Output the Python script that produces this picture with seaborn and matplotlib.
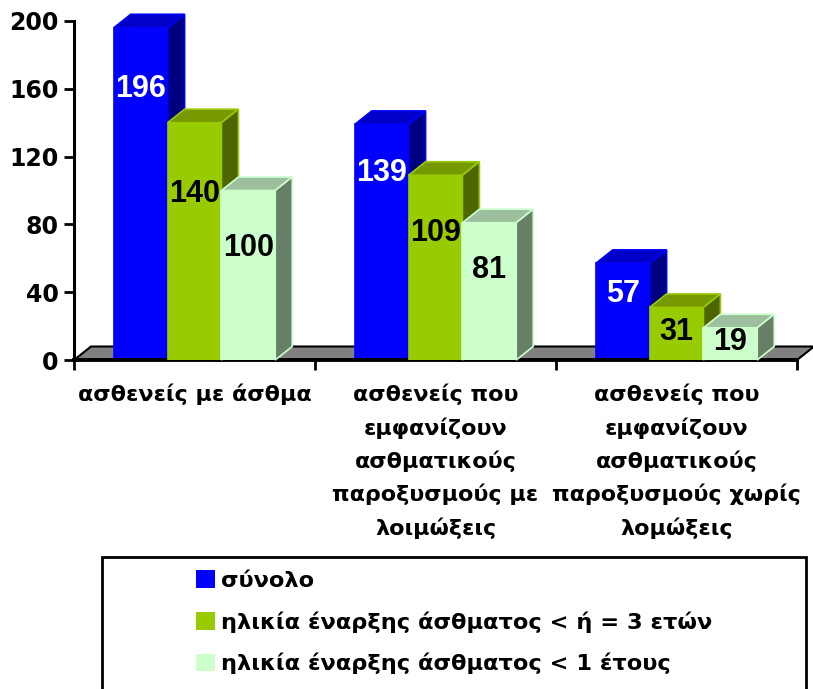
import numpy as np
import pandas as pd
import matplotlib
matplotlib.use("Agg")
import matplotlib.pyplot as plt
from matplotlib.patches import Polygon, Patch, Rectangle
import seaborn as sns

# --- data -------------------------------------------------------------
categories = [
    "ασθενείς με άσθμα",
    "ασθενείς που\nεμφανίζουν\nασθματικούς\nπαροξυσμούς με\nλοιμώξεις",
    "ασθενείς που\nεμφανίζουν\nασθματικούς\nπαροξυσμούς χωρίς\nλομώξεις",
]
series = [
    "σύνολο",
    "ηλικία έναρξης άσθματος < ή = 3 ετών",
    "ηλικία έναρξης άσθματος < 1 έτους",
]
total = [196, 139, 57]
onset_3y = [140, 109, 31]
onset_1y = [100, 81, 19]
y_ticks = [0, 40, 80, 120, 160, 200]

# --- styling ----------------------------------------------------------
front = ["#0000FF", "#99CC00", "#CCFFCC"]
top_c = ["#0000C8", "#779900", "#9DBF9D"]
side_c = ["#000080", "#4D6600", "#667F66"]
text_c = ["white", "black", "black"]
# label height inside each bar (slope, offset) per series
label_fit = [(0.87, -10.6), (0.747, -6.4), (0.683, -2.3)]

sns.set_theme(style="white")
plt.rcParams["font.family"] = ["DejaVu Sans"]
plt.rcParams["font.weight"] = "bold"
for key in ["text.color", "axes.labelcolor", "xtick.color", "ytick.color"]:
    plt.rcParams[key] = "black"

df = pd.DataFrame({
    "category": categories * 3,
    "series": np.repeat(series, 3),
    "value": total + onset_3y + onset_1y,
})

W, H = 813, 689
fig = plt.figure(figsize=(W / 100, H / 100), dpi=100)
ax = fig.add_axes([74 / W, 1 - 360 / H, (797 - 74) / W, (360 - 21) / H])

sns.barplot(data=df, x="category", y="value", hue="series",
            order=categories, hue_order=series, palette=front,
            saturation=1, width=0.67, legend=False, ax=ax,
            edgecolor="none", errorbar=None)

ax.set_xlim(-0.5, 2.5)
ax.set_ylim(0, 200)

# depth of the pseudo-3D extrusion, in pixels -> data units
px_x = 3.0 / (797 - 74)
px_y = 200.0 / (360 - 21)
dx, dy = 17 * px_x, 13.5 * px_y

# floor slab behind the bars
floor = Polygon([(-0.5, 0), (2.5, 0), (2.5 + dx, dy), (-0.5 + dx, dy)],
                closed=True, facecolor="#808080", edgecolor="black",
                lw=1.5, zorder=1, clip_on=False)
ax.add_patch(floor)

for i, cont in enumerate(ax.containers):
    z = 2 + i
    for bar in cont:
        bar.set_zorder(z)
        bar.set_edgecolor(front[i])
        bar.set_linewidth(1.2)
        x0 = bar.get_x()
        x1 = x0 + bar.get_width()
        h = bar.get_height()
        top = Polygon([(x0, h), (x1, h), (x1 + dx, h + dy), (x0 + dx, h + dy)],
                      closed=True, facecolor=top_c[i], edgecolor=front[i],
                      lw=1.2, zorder=z, clip_on=False)
        side = Polygon([(x1, 0), (x1, h), (x1 + dx, h + dy), (x1 + dx, dy)],
                       closed=True, facecolor=side_c[i], edgecolor=front[i],
                       lw=1.2, zorder=z, clip_on=False)
        ax.add_patch(top)
        ax.add_patch(side)
        a, b = label_fit[i]
        ax.text((x0 + x1) / 2, a * h + b, f"{h:.0f}", ha="center",
                va="center", fontsize=22, fontweight="bold",
                family="Liberation Sans", color=text_c[i], zorder=10)

# axes
for s in ["top", "right"]:
    ax.spines[s].set_visible(False)
ax.spines["left"].set_linewidth(2.2)
ax.spines["bottom"].set_linewidth(2.8)
ax.spines["left"].set_color("black")
ax.spines["bottom"].set_color("black")
ax.spines["left"].set_zorder(0.5)

ax.set_yticks(y_ticks)
ax.tick_params(axis="y", direction="out", length=7, width=2, colors="black",
               labelsize=17, pad=4, left=True)
ax.set_xticks(range(len(categories)))
ax.set_xticklabels(categories, fontsize=16, fontweight="bold",
                   linespacing=1.68, va="top", color="black")
ax.tick_params(axis="x", which="major", length=0, pad=17, bottom=True)
ax.set_xticks([-0.5, 0.5, 1.5, 2.5], minor=True)
ax.tick_params(axis="x", which="minor", direction="out", length=7, width=2,
               color="black", bottom=True)
for lab in ax.get_yticklabels():
    lab.set_fontweight("bold")
ax.set_xlabel("")
ax.set_ylabel("")
ax.grid(False)

# legend box (runs off the bottom edge)
fig.patches.append(Rectangle((102 / W, -0.05), (806 - 102) / W,
                             0.05 + (H - 557) / H, transform=fig.transFigure,
                             facecolor="white", edgecolor="black", lw=2,
                             clip_on=False))
handles = [Patch(facecolor=c, edgecolor="none") for c in front]
leg = fig.legend(handles, series, loc="upper left",
                 bbox_to_anchor=(196 / W, 1 - 570 / H), frameon=False,
                 prop={"size": 16.2, "weight": "bold"}, handlelength=0.85,
                 handleheight=0.85, handletextpad=0.28, labelspacing=0.9,
                 borderpad=0, borderaxespad=0)
for t in leg.get_texts():
    t.set_color("black")

fig.savefig("out.png", dpi=100)
